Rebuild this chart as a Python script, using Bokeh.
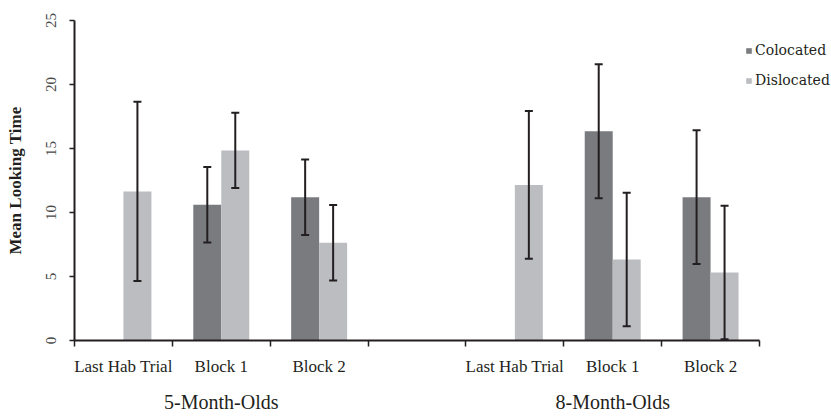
import math
from bokeh.plotting import figure
from bokeh.models import (ColumnDataSource, FixedTicker, LinearAxis, Legend,
                          LegendItem, Whisker, TeeHead, Range1d)
from bokeh.transform import dodge
from bokeh.embed import file_html
from bokeh.resources import INLINE

nan = float("nan")

categories = ["Last Hab Trial", "Block 1", "Block 2", "", "Last Hab Trial", "Block 1", "Block 2"]
groups = ["5-Month-Olds", "8-Month-Olds"]
group_slots = [[0, 1, 2], [4, 5, 6]]

colocated = [nan, 10.6, 11.2, nan, nan, 16.35, 11.2]
colocated_err = [nan, 2.95, 2.95, nan, nan, 5.24, 5.23]
dislocated = [11.65, 14.85, 7.63, nan, 12.15, 6.33, 5.31]
dislocated_err = [7.0, 2.94, 2.95, nan, 5.77, 5.22, 5.22]

y_ticks = [0, 5, 10, 15, 20, 25]

COL_DARK = "#7a7b7f"
COL_LIGHT = "#bcbdc1"
INK = "#231f20"
FONT = "Liberation Serif"

N = len(categories)
AXIS_PX = 685          # pixel length of the drawn category axis
FRAME_W = 757          # frame runs on to the right edge to host the legend


def make_source(vals, errs):
    xs, ys, lo, hi = [], [], [], []
    for i, (v, e) in enumerate(zip(vals, errs)):
        if math.isnan(v):
            continue
        xs.append(i + 0.5)
        ys.append(v)
        lo.append(v - e)
        hi.append(v + e)
    return ColumnDataSource(dict(x=xs, y=ys, lower=lo, upper=hi))


src_col = make_source(colocated, colocated_err)
src_dis = make_source(dislocated, dislocated_err)

p = figure(frame_width=FRAME_W, frame_height=320,
           x_range=Range1d(0, N * FRAME_W / AXIS_PX), y_range=Range1d(0, 25),
           output_backend="svg", toolbar_location=None,
           min_border_left=74, min_border_top=20, min_border_right=0,
           min_border_bottom=0, x_axis_location=None)
p.outline_line_color = None
p.xgrid.visible = False
p.ygrid.visible = False
p.background_fill_color = "white"
p.border_fill_color = "white"

bw = 0.286
off = bw / 2
r_col = p.vbar(x=dodge("x", -off, range=p.x_range), top="y", width=bw, source=src_col,
               fill_color=COL_DARK, line_color=None)
r_dis = p.vbar(x=dodge("x", off, range=p.x_range), top="y", width=bw, source=src_dis,
               fill_color=COL_LIGHT, line_color=None)

for src, o in ((src_col, -off), (src_dis, off)):
    w = Whisker(base=dodge("x", o, range=p.x_range), upper="upper", lower="lower", source=src,
                line_color=INK, line_width=2, level="overlay",
                upper_head=TeeHead(size=8, line_color=INK, line_width=2),
                lower_head=TeeHead(size=8, line_color=INK, line_width=2))
    p.add_layout(w)

# y axis
ya = p.yaxis[0]
ya.ticker = FixedTicker(ticks=y_ticks)
ya.axis_line_width = 2
ya.axis_line_color = INK
ya.major_tick_line_color = INK
ya.major_tick_line_width = 1.5
ya.major_tick_in = 0
ya.major_tick_out = 5
ya.minor_tick_line_color = None
ya.major_label_orientation = "vertical"
ya.major_label_text_font = FONT
ya.major_label_text_font_size = "15px"
ya.major_label_text_color = "#4a4a4a"
ya.major_label_standoff = 14
ya.axis_label = "Mean Looking Time"
ya.axis_label_text_font = FONT
ya.axis_label_text_font_style = "bold"
ya.axis_label_text_font_size = "17px"
ya.axis_label_text_color = INK
ya.axis_label_standoff = 18

# category axis: labels at slot centres, tick marks at slot boundaries
cat_ticks = [i + 0.5 for i in range(N) if categories[i]]
cat_axis = LinearAxis(ticker=FixedTicker(ticks=cat_ticks, minor_ticks=list(range(N + 1))),
                      bounds=(0, N),
                      major_label_overrides={i + 0.5: c for i, c in enumerate(categories) if c},
                      axis_line_color=INK, axis_line_width=2,
                      major_tick_line_color=None, major_tick_out=0, major_tick_in=0,
                      minor_tick_line_color=INK, minor_tick_line_width=1.5,
                      minor_tick_out=6, minor_tick_in=0,
                      major_label_standoff=10,
                      major_label_text_font=FONT, major_label_text_font_size="17px",
                      major_label_text_color=INK)
p.add_layout(cat_axis, "below")

# group labels
g_ticks = [sum(s) / len(s) + 0.5 for s in group_slots]
grp_axis = LinearAxis(ticker=FixedTicker(ticks=g_ticks),
                      major_label_overrides={t: g for t, g in zip(g_ticks, groups)},
                      axis_line_color=None, major_tick_line_color=None,
                      minor_tick_line_color=None, major_tick_out=0, major_tick_in=0,
                      major_label_standoff=12,
                      major_label_text_font=FONT, major_label_text_font_size="20px",
                      major_label_text_color=INK)
p.add_layout(grp_axis, "below")

legend = Legend(items=[LegendItem(label="Colocated", renderers=[r_col]),
                       LegendItem(label="Dislocated", renderers=[r_dis])],
                location=(671, 250), padding=0, margin=0, spacing=10,
                glyph_width=7, glyph_height=7, label_height=20, label_standoff=3,
                label_text_font="DejaVu Serif", label_text_font_size="14px",
                label_text_color=INK, border_line_color=None,
                background_fill_alpha=0)
p.add_layout(legend)

open("out.html", "w").write(file_html(p, INLINE))
